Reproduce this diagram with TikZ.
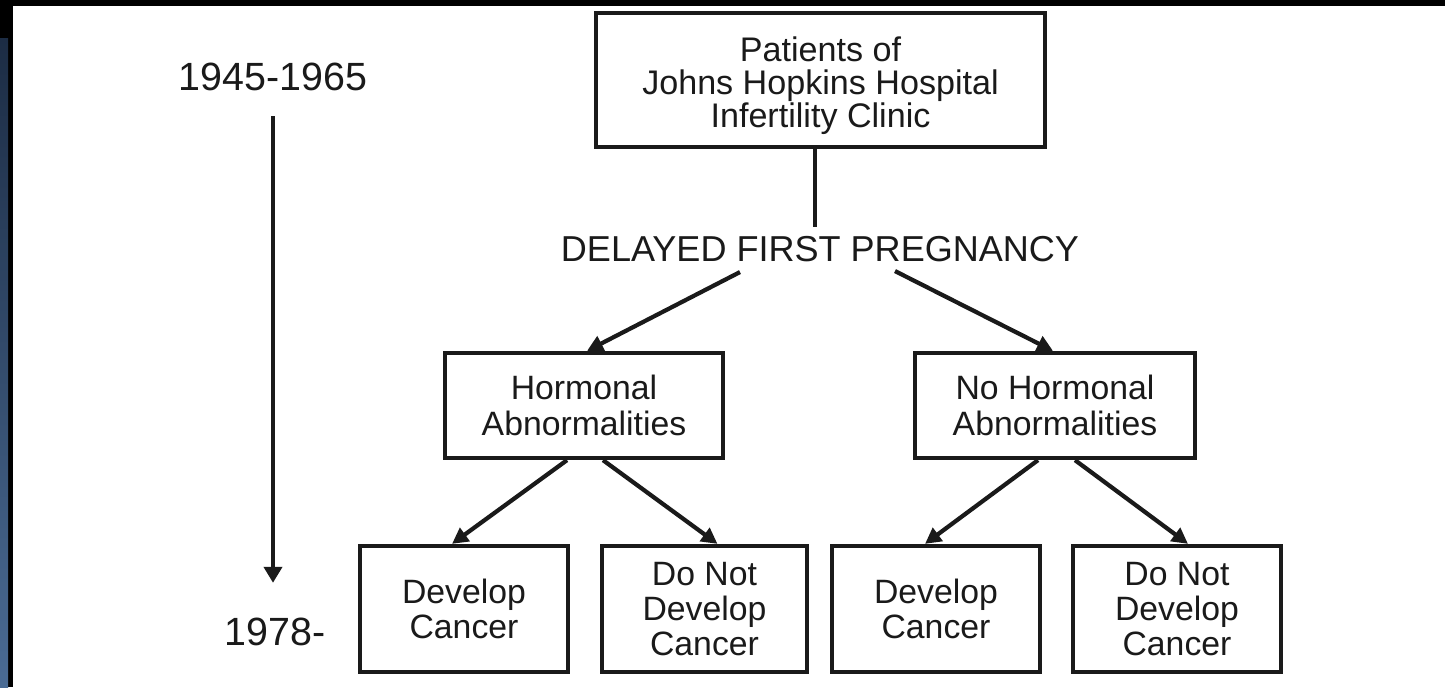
\documentclass[tikz,border=0pt]{standalone}
\usepackage{fontspec}
\setmainfont{Liberation Sans}
\usetikzlibrary{arrows.meta,calc}

\definecolor{inkgray}{HTML}{1A1A1A}
\definecolor{stripblue}{HTML}{4A6B94}
\definecolor{stripdark}{HTML}{1C2C44}

\tikzset{
  box/.style={draw=inkgray, line width=1.2pt, fill=white, align=center,
              inner sep=0pt, text=inkgray},
  boxtext/.style={font=\fontsize{9.6}{10}\selectfont},
  arr/.style={draw=inkgray, line width=1.2pt,
              -{Triangle[length=1.6mm,width=1.6mm]}},
  plain/.style={draw=inkgray, line width=1.3pt},
  yearlabel/.style={font=\fontsize{11.2}{13}\selectfont, text=inkgray,
                    anchor=base, inner sep=0pt},
}

\begin{document}
\begin{tikzpicture}[x=0.01cm, y=-0.01cm]
  % page frame: white sheet, dark top edge and left edge
  \useasboundingbox (0,0) rectangle (1445,687);
  \fill[white] (0,0) rectangle (1445,687);
  \fill[black] (0,0) rectangle (1445,6);
  \fill[black] (0,0) rectangle (13,687);
  \shade[top color=stripdark, bottom color=stripblue] (0,38) rectangle (8,687);

  % time axis
  \node[yearlabel] (start) at (273,90) {1945-1965};
  \node[yearlabel] (end) at (275,645) {1978-};
  \draw[plain, -{Triangle[length=1.6mm,width=1.8mm]}]
    ($(start.south)+(0,25)$) -- ($(end.north)+(-2,-34)$);

  % study population (box, with its three lines set slightly below centre)
  \node[box, minimum width=4.49cm, minimum height=1.34cm] (top) at (820.5,80) {};
  \node[font=\fontsize{9.7}{9.4}\selectfont, text=inkgray, align=center,
        inner sep=0pt] (toptext) at ($(top.center)+(0,6)$)
    {Patients of\\Johns Hopkins Hospital\\Infertility Clinic};

  \node[font=\fontsize{10.25}{12}\selectfont, text=inkgray, anchor=base,
        inner sep=0pt] (delayed) at (820,261) {DELAYED FIRST PREGNANCY};

  % hormonal status
  \node[box, boxtext, minimum width=2.78cm, minimum height=1.05cm]
    (midL) at (584,405.5) {Hormonal\\Abnormalities};
  \node[box, boxtext, minimum width=2.80cm, minimum height=1.05cm]
    (midR) at (1055,405.5) {No Hormonal\\Abnormalities};

  % outcomes
  \node[box, boxtext, minimum width=2.08cm, minimum height=1.26cm]
    (b1) at (464,609) {Develop\\Cancer};
  \node[box, boxtext, minimum width=2.05cm, minimum height=1.26cm]
    (b2) at (704.5,609) {Do Not\\Develop\\Cancer};
  \node[box, boxtext, minimum width=2.08cm, minimum height=1.26cm]
    (b3) at (936,609) {Develop\\Cancer};
  \node[box, boxtext, minimum width=2.08cm, minimum height=1.26cm]
    (b4) at (1177,609) {Do Not\\Develop\\Cancer};

  % connectors
  \draw[plain] ($(top.south)+(-5.5,0)$) -- ($(delayed.north)+(-5,-8)$);
  \draw[arr] ($(delayed.south)+(-80,10)$) -- ($(midL.north)+(3,0)$);
  \draw[arr] ($(delayed.south)+(75,9)$) -- ($(midR.north)+(-2,0)$);

  \draw[arr] ($(midL.south)+(-17,0)$) -- ($(b1.north)+(-12,0)$);
  \draw[arr] ($(midL.south)+(19,0)$) -- ($(b2.north)+(13,0)$);
  \draw[arr] ($(midR.south)+(-17,0)$) -- ($(b3.north)+(-11,0)$);
  \draw[arr] ($(midR.south)+(20,0)$) -- ($(b4.north)+(11,0)$);
\end{tikzpicture}
\end{document}
